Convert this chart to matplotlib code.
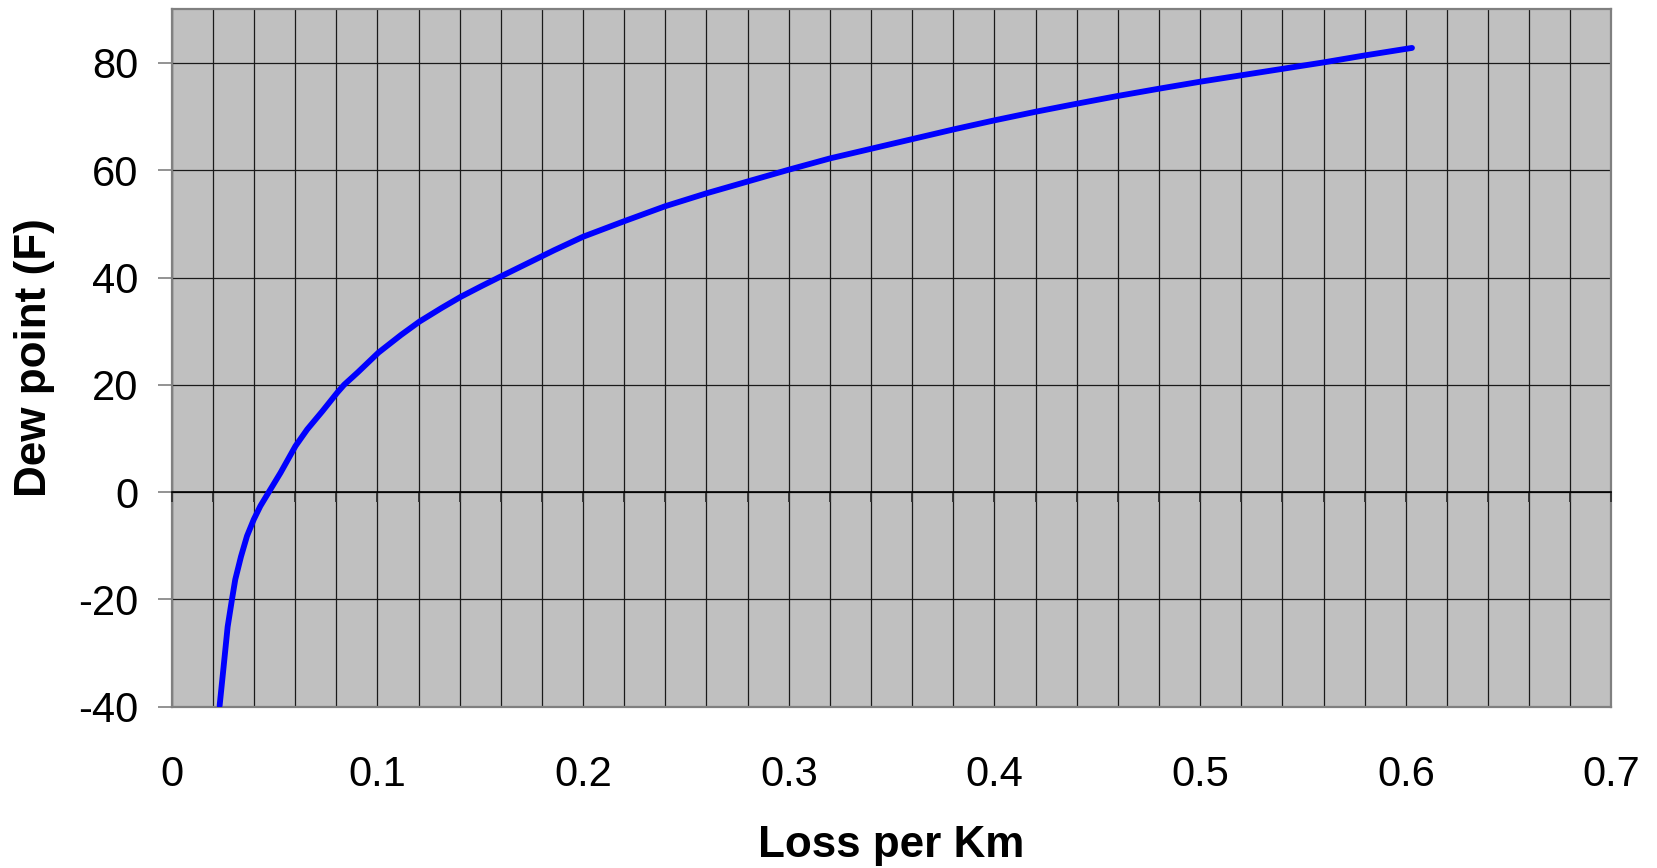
import numpy as np
import matplotlib
matplotlib.use("Agg")
import matplotlib.pyplot as plt

# curve (loss per km vs dew point)
loss_per_km = [0.0233, 0.0252, 0.0272, 0.0293, 0.0309, 0.0337, 0.0366, 0.0399,
               0.0431, 0.0472, 0.0529, 0.0602, 0.0659, 0.0733, 0.0806, 0.0838,
               0.0904, 0.1005, 0.1115, 0.1205, 0.1311, 0.1405, 0.1506, 0.1600,
               0.186, 0.200, 0.220, 0.240, 0.260, 0.280, 0.300, 0.320, 0.340,
               0.360, 0.380, 0.400, 0.420, 0.440, 0.460, 0.480, 0.500, 0.520,
               0.540, 0.560, 0.580, 0.603]
dew_point = [-39.8, -32.7, -25.1, -20.0, -16.3, -12.0, -8.2, -5.1,
             -2.6, 0.0, 3.6, 8.6, 11.7, 15.1, 18.6, 20.0,
             22.3, 26.0, 29.3, 31.8, 34.3, 36.4, 38.4, 40.2,
             45.1, 47.6, 50.5, 53.3, 55.7, 57.9, 60.1, 62.2, 64.0,
             65.8, 67.6, 69.3, 70.9, 72.4, 73.85, 75.2, 76.5, 77.7,
             78.9, 80.1, 81.4, 82.8]

x_ticks = [0, 0.1, 0.2, 0.3, 0.4, 0.5, 0.6, 0.7]
x_tick_labels = ["0", "0.1", "0.2", "0.3", "0.4", "0.5", "0.6", "0.7"]
y_ticks = [-40, -20, 0, 20, 40, 60, 80]
x_minor_step = 0.02

plt.rcParams["font.family"] = ["Liberation Sans", "DejaVu Sans"]
plt.rcParams["axes.unicode_minus"] = False

W, H = 1658, 868
fig = plt.figure(figsize=(W / 100, H / 100), dpi=100)
left, right, top, bottom = 171.7, 1611.5, 9.3, 706.7
ax = fig.add_axes([left / W, 1 - bottom / H, (right - left) / W, (bottom - top) / H])

ax.set_facecolor("#c0c0c0")
ax.set_xlim(0, 0.7)
ax.set_ylim(-40, 90)

ax.set_xticks(x_ticks)
ax.set_xticklabels(x_tick_labels)
ax.set_xticks(np.arange(0, 0.7 + 1e-9, x_minor_step), minor=True)
ax.set_yticks(y_ticks)

ax.set_axisbelow(True)
ax.grid(True, which="both", axis="x", color="#1a1a1a", linewidth=0.9)
ax.grid(True, which="major", axis="y", color="#1a1a1a", linewidth=0.9)

ax.tick_params(axis="x", which="both", length=0, pad=34.5, labelsize=30)
ax.tick_params(axis="y", which="major", length=10, width=1.2, color="#808080",
               pad=14, labelsize=30)

for sp in ax.spines.values():
    sp.set_color("#808080")
    sp.set_linewidth(1.6)

# x axis line crossing at dew point 0, with tick marks every 0.02
sec = ax.secondary_xaxis(40 / 130)
sec.set_zorder(2.5)
sec.set_xticks(np.arange(0, 0.7 + 1e-9, x_minor_step))
sec.tick_params(axis="x", direction="out", length=7, width=1.3, color="#303030",
                labelbottom=False, labeltop=False)
sec.spines["bottom"].set_color("black")
sec.spines["bottom"].set_linewidth(1.2)

ax.plot(loss_per_km, dew_point, color="#0000ff", linewidth=4.2,
        solid_capstyle="round", solid_joinstyle="round", zorder=3)

fig.text((left + right) / 2 / W, 1 - 856.7 / H, "Loss per Km", ha="center",
         va="baseline", fontsize=31.7, fontweight="bold")
fig.text(35 / W, 1 - 358 / H, "Dew point (F)", ha="center", va="center",
         rotation=90, fontsize=31.7, fontweight="bold")

fig.savefig("out.png", dpi=100)
